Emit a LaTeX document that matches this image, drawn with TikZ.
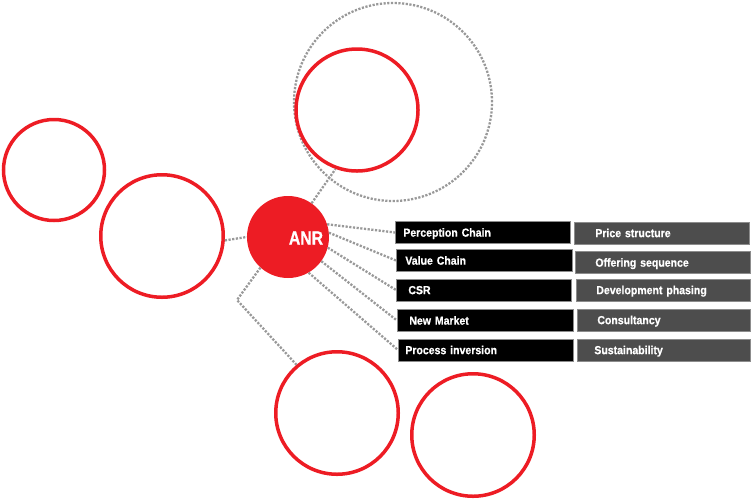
\documentclass[tikz,border=0pt]{standalone}
\usepackage{fontspec}
\newfontfamily\boxfont{Liberation Sans}[FakeStretch=0.9,FakeBold=0.6]
\newfontfamily\anrfont{Liberation Sans}[FakeStretch=0.83,FakeBold=0.8]
\definecolor{anrred}{HTML}{ED1C24}
\definecolor{dotgray}{HTML}{999999}
\definecolor{boxgray}{HTML}{4D4D4D}
\definecolor{edgegray}{HTML}{8C8C8C}
\begin{document}
\begin{tikzpicture}[x=1pt,y=-1pt,
  redring/.style={circle,draw=anrred,line width=3.5pt,inner sep=0pt},
  dotline/.style={draw=dotgray,line width=2.3pt,dash pattern=on 2.2pt off 1.5pt},
  bbox/.style={rectangle,fill=black,draw=edgegray,line width=0.7pt,anchor=west,
    minimum height=22pt,inner ysep=0pt,align=left,text=white,
    text height=8.3pt,text depth=0pt,
    font=\boxfont\bfseries\fontsize{11.7}{13}\selectfont},
  gbox/.style={bbox,fill=boxgray}]
\useasboundingbox (0,0) rectangle (751,499);
% circles
\node[redring,minimum size=101pt] (c1) at (54,170) {};
\node[redring,minimum size=122.5pt] (c2) at (162,236) {};
\node[circle,dotline,minimum size=198pt,inner sep=0pt] (dc) at (393,102) {};
\node[redring,minimum size=122pt] (ur) at (357,110) {};
\node[redring,minimum size=122.5pt] (lc1) at (337,413) {};
\node[redring,minimum size=122.5pt] (lc2) at (473,435) {};
\node[circle,fill=anrred,minimum size=82pt,inner sep=0pt] (anr) at (288,237) {};
\node[text=white,inner sep=0pt,font=\anrfont\bfseries\fontsize{19}{20}\selectfont] (anrtext) at (306,238) {ANR};
% black boxes
\node[bbox,inner xsep=8pt,text width=159pt] (b1) at (395,232.5) {Perception Chain};
\node[bbox,inner xsep=9pt,text width=158pt] (b2) at (396,260.5) {Value Chain};
\node[bbox,inner xsep=12pt,text width=151pt] (b3) at (396,290) {CSR};
\node[bbox,inner xsep=12pt,text width=152pt] (b4) at (397,320.5) {New Market};
\node[bbox,inner xsep=7pt,text width=161pt] (b5) at (398,350) {Process inversion};
% gray boxes
\node[gbox,inner xsep=21pt,text width=133pt] (g1) at (574,233) {Price structure};
\node[gbox,inner xsep=20pt,text width=135pt] (g2) at (575,262.5) {Offering sequence};
\node[gbox,inner xsep=20pt,text width=134pt] (g3) at (576,290) {Development phasing};
\node[gbox,inner xsep=20pt,text width=133pt] (g4) at (577,320) {Consultancy};
\node[gbox,inner xsep=17pt,text width=139pt] (g5) at (577,350) {Sustainability};
% connectors
\coordinate (bend) at (237,300);
\draw[dotline] (c2.-4) -- (anr.180);
\draw[dotline] (anr.55) -- (ur.250);
\draw[dotline] (anr.-132) -- (bend) -- (lc1.130);
\draw[dotline] (anr.18) -- (b1.west);
\draw[dotline] (anr.6) -- (b2.west);
\draw[dotline] (anr.-15) -- (b3.west);
\draw[dotline] (anr.-36) -- (b4.west);
\draw[dotline] (anr.-60) -- (b5.west);
\end{tikzpicture}
\end{document}
